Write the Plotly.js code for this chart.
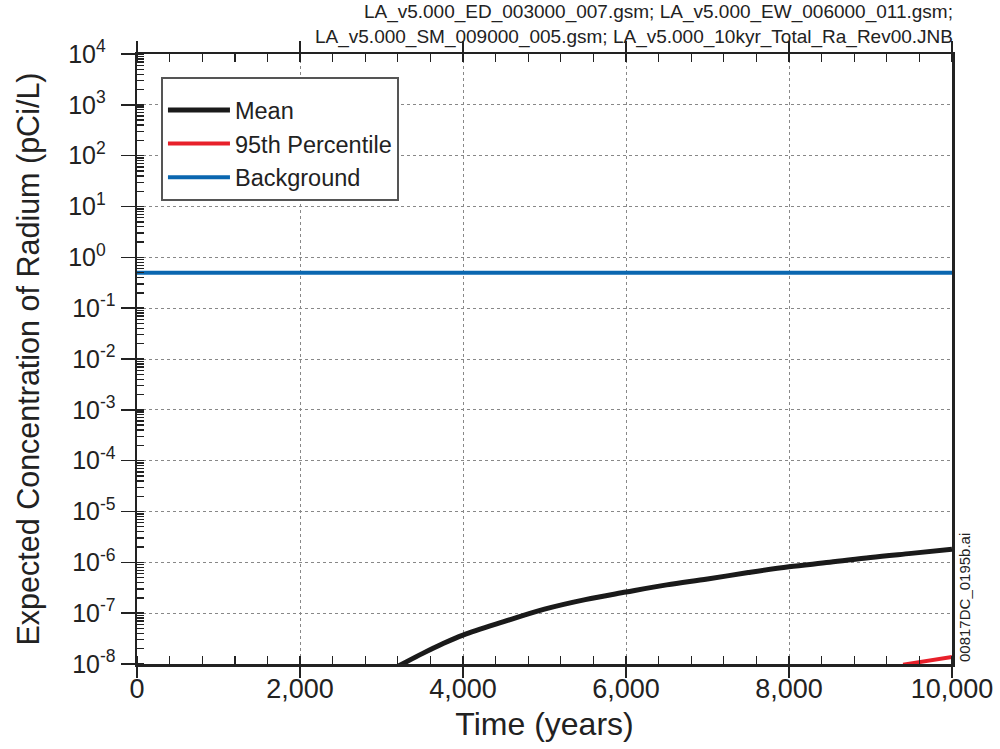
<!DOCTYPE html>
<html>
<head>
<meta charset="utf-8">
<script src="https://cdn.plot.ly/plotly-3.0.1.min.js"></script>
<style>
html,body{margin:0;padding:0;background:#fff;}
#chart{width:1000px;height:749px;}
</style>
</head>
<body>
<div id="chart"></div>
<script>
// ---- data ----
const meanX = [3200, 3500, 3750, 4000, 4500, 5000, 5500, 6000, 6500, 7000, 7500, 8000, 8500, 9000, 9500, 10000];
const meanY = [9.0e-9, 1.6e-8, 2.5e-8, 3.7e-8, 6.8e-8, 1.2e-7, 1.85e-7, 2.6e-7, 3.6e-7, 4.7e-7, 6.3e-7, 8.2e-7, 1.0e-6, 1.25e-6, 1.5e-6, 1.8e-6];
const p95X = [9400, 9700, 10000];
const p95Y = [9.7e-9, 1.17e-8, 1.38e-8];
const bgX = [0, 10000];
const bgY = [0.5, 0.5];
const xTickVals = [0, 2000, 4000, 6000, 8000, 10000];
const xTickText = ['0', '2,000', '4,000', '6,000', '8,000', '10,000'];
const yTickVals = [1e-8, 1e-7, 1e-6, 1e-5, 1e-4, 1e-3, 1e-2, 1e-1, 1e0, 1e1, 1e2, 1e3, 1e4];
const yTickText = ['10<sup>-8</sup>','10<sup>-7</sup>','10<sup>-6</sup>','10<sup>-5</sup>','10<sup>-4</sup>','10<sup>-3</sup>','10<sup>-2</sup>','10<sup>-1</sup>',
  '10<sup>0\u00a0\u00a0</sup>','10<sup>1\u00a0\u00a0</sup>','10<sup>2\u00a0\u00a0</sup>','10<sup>3\u00a0\u00a0</sup>','10<sup>4\u00a0\u00a0</sup>'];
const fileNote = 'LA_v5.000_ED_003000_007.gsm; LA_v5.000_EW_006000_011.gsm;<br>LA_v5.000_SM_009000_005.gsm; LA_v5.000_10kyr_Total_Ra_Rev00.JNB';
const figId = '00817DC_0195b.ai';

const FONT = 'Liberation Sans, Arial, Helvetica, sans-serif';
const INK = '#222';

const traces = [
  {x: meanX, y: meanY, name: 'Mean', mode: 'lines', line: {color: '#1a1a1a', width: 5, shape: 'spline'}},
  {x: p95X, y: p95Y, name: '95th Percentile', mode: 'lines', line: {color: '#e8202a', width: 4}},
  {x: bgX, y: bgY, name: 'Background', mode: 'lines', line: {color: '#0a67b0', width: 4}}
];

const layout = {
  width: 1000, height: 749,
  margin: {l: 137, r: 48, t: 54, b: 85},
  paper_bgcolor: '#fff', plot_bgcolor: '#fff',
  font: {family: FONT, color: INK},
  showlegend: true,
  legend: {
    x: 0.0294, y: 0.962, xanchor: 'left', yanchor: 'top',
    bgcolor: '#fff', bordercolor: '#555', borderwidth: 2,
    font: {size: 23.5, family: FONT, color: INK},
    title: {text: '\u00a0', font: {size: 7, family: FONT}},
    itemwidth: 62
  },
  xaxis: {
    range: [0, 10000], tickmode: 'array', tickvals: xTickVals, ticktext: xTickText,
    showline: true, linecolor: INK, linewidth: 2.5, mirror: 'ticks',
    ticks: 'outside', ticklen: 11, tickwidth: 1.6, tickcolor: INK,
    ticklabelstandoff: -12,
    tickfont: {size: 27, family: FONT, color: INK},
    showgrid: true, gridcolor: '#888', gridwidth: 1, griddash: '3px,3px',
    zeroline: false,
    minor: {tickmode: 'linear', tick0: 0, dtick: 400, ticks: 'inside', ticklen: 8, tickwidth: 1.4, tickcolor: INK, showgrid: false},
    title: {text: 'Time (years)', font: {size: 32, family: FONT, color: INK}, standoff: 10}
  },
  yaxis: {
    type: 'log', range: [-8, 4],
    tickmode: 'array', tickvals: yTickVals, ticktext: yTickText,
    showline: true, linecolor: INK, linewidth: 2.5, mirror: true,
    ticks: 'outside', ticklen: 14, tickwidth: 1.6, tickcolor: INK,
    tickfont: {size: 25, family: FONT, color: INK},
    showgrid: true, gridcolor: '#888', gridwidth: 1, griddash: '3px,3px',
    zeroline: false,
    minor: {dtick: 'D1', ticks: 'inside', ticklen: 7, tickwidth: 1.4, tickcolor: INK, showgrid: false},
    title: {text: 'Expected Concentration of Radium (pCi/L)', font: {size: 30.5, family: FONT, color: INK}, standoff: 20}
  },
  annotations: [
    {xref: 'paper', yref: 'paper', x: 1, y: 1, xanchor: 'right', yanchor: 'bottom', yshift: 4, xshift: 3,
     text: fileNote, showarrow: false, align: 'right',
     font: {size: 19, family: FONT, color: INK}},
    {xref: 'paper', yref: 'paper', x: 1, y: 0, xanchor: 'left', yanchor: 'bottom', xshift: 2,
     text: figId, textangle: -90, showarrow: false,
     font: {size: 15, family: FONT, color: INK}}
  ]
};

Plotly.newPlot('chart', traces, layout, {displayModeBar: false, staticPlot: true});
</script>
</body>
</html>
